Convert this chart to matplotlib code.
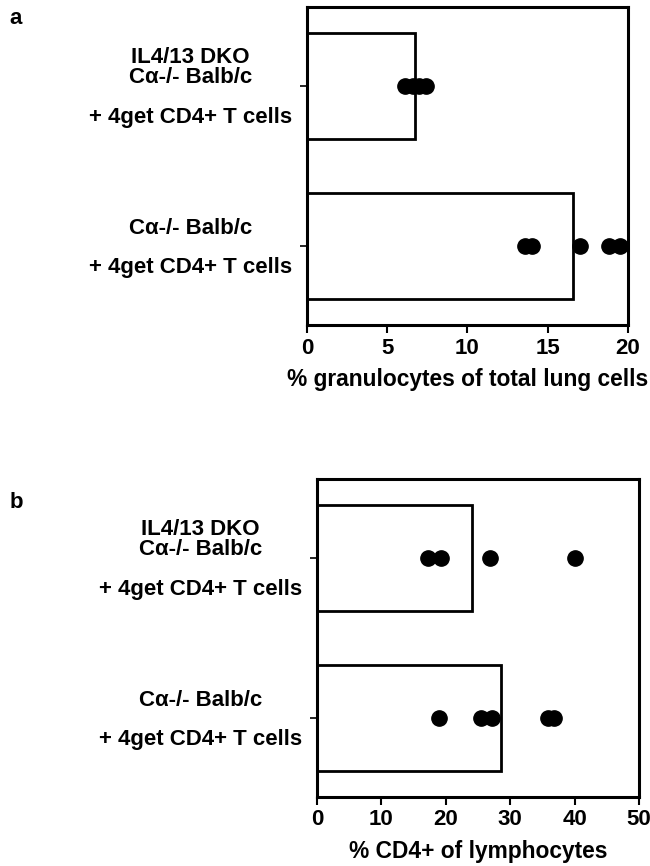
import matplotlib.pyplot as plt

plt.rcParams['font.family'] = ['Liberation Sans', 'DejaVu Sans']
plt.rcParams['font.weight'] = 'bold'

groups = ['IL4/13 DKO\nC\u03b1-/- Balb/c\n\n+ 4get CD4+ T cells',
          'C\u03b1-/- Balb/c\n\n+ 4get CD4+ T cells']

# panel a: % granulocytes of total lung cells
gran_means = [6.7, 16.6]
gran_dko = [6.1, 6.6, 7.0, 7.4]
gran_wt = [13.6, 14.0, 17.0, 18.8, 19.5]

# panel b: % CD4+ of lymphocytes
cd4_means = [24.0, 28.6]
cd4_dko = [17.3, 19.2, 26.9, 40.0]
cd4_wt = [18.9, 25.4, 27.2, 35.8, 36.8]

fig = plt.figure(figsize=(6.5, 8.66), dpi=100)


def panel(rect, means, pts_dko, pts_wt, xmax, xticks, xlabel, letter, letter_y):
    ax = fig.add_axes(rect)
    ax.barh([0, 1], means, height=0.66, color='white', edgecolor='black',
            linewidth=2.0, zorder=2)
    ax.plot(pts_dko, [0] * len(pts_dko), 'o', color='black', ms=11,
            zorder=3, clip_on=False)
    ax.plot(pts_wt, [1] * len(pts_wt), 'o', color='black', ms=11,
            zorder=3, clip_on=False)
    ax.set_xlim(0, xmax)
    ax.set_ylim(1.49, -0.49)
    ax.set_xticks(xticks)
    ax.set_yticks([0, 1])
    ax.set_yticklabels(groups, fontsize=16, fontweight='bold', linespacing=0.92)
    for lab in ax.get_yticklabels():
        lab.set_multialignment('center')
    ax.tick_params(axis='x', labelsize=16, length=6, width=1.5, pad=3)
    ax.tick_params(axis='y', length=5, width=1.2, pad=6)
    ax.set_xlabel(xlabel, fontsize=16.4, fontweight='bold', labelpad=7)
    for s in ax.spines.values():
        s.set_linewidth(2.2)
    fig.text(0.015, letter_y, letter, fontsize=16, fontweight='bold',
             va='center', ha='left')
    return ax


panel([0.4723, 0.6247, 0.4938, 0.3672], gran_means, gran_dko, gran_wt,
      20, [0, 5, 10, 15, 20], '% granulocytes of total lung cells', 'a',
      1 - 18 / 866)
panel([0.4877, 0.0797, 0.4954, 0.3672], cd4_means, cd4_dko, cd4_wt,
      50, [0, 10, 20, 30, 40, 50], '% CD4+ of lymphocytes', 'b',
      1 - 502 / 866)

plt.savefig('out.png', dpi=100)
